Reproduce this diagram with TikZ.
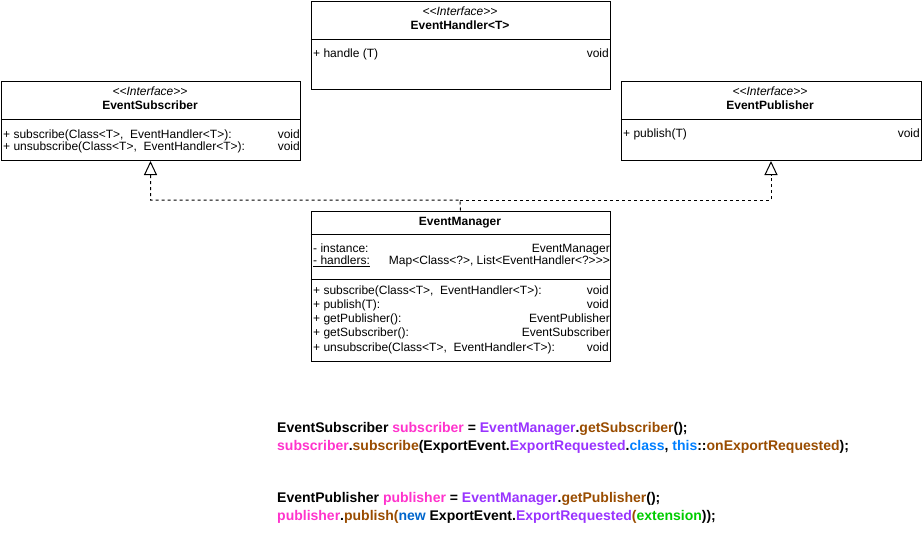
\documentclass[tikz,border=0pt]{standalone}
\usepackage{fontspec}
\setmainfont{Liberation Sans}[Ligatures=TeXOff]
\usetikzlibrary{arrows.meta}

\definecolor{varpink}{HTML}{FF33CC}
\definecolor{typepurple}{HTML}{9933FF}
\definecolor{callbrown}{HTML}{994C00}
\definecolor{kwblue}{HTML}{007FFF}
\definecolor{newblue}{HTML}{0066CC}
\definecolor{argreen}{HTML}{00CC00}

\begin{document}
\begin{tikzpicture}[x=1pt,y=-1pt,
  umlbox/.style={draw, line width=1pt, anchor=north west, inner sep=0pt},
  divider/.style={line width=1pt},
  stereo/.style={font=\fontsize{12}{14}\selectfont\itshape, inner sep=0pt, anchor=base},
  classname/.style={font=\fontsize{12}{14}\selectfont\bfseries, inner sep=0pt, anchor=base},
  member/.style={font=\fontsize{12}{14}\selectfont, inner sep=0pt, anchor=base west},
  mtype/.style={font=\fontsize{12}{14}\selectfont, inner sep=0pt, anchor=base east},
  realizes/.style={line width=1pt, dash pattern=on 3pt off 3pt,
    -{Triangle[open, length=14pt, width=13pt, line width=1pt]}},
  codeline/.style={font=\fontsize{14}{16}\selectfont\bfseries, inner sep=0pt, anchor=base west}
]
\useasboundingbox (0,0) rectangle (922,541);

% ---- EventHandler<T> ----
\node[umlbox, minimum width=299pt, minimum height=88pt] (handler) at (310.5,0.5) {};
\draw[divider] (310.5,39) -- (609.5,39);
\node[stereo] (handlerStereo) at (460,15.5) {<<Interface>>};
\node[classname] (handlerName) at (460,29.5) {EventHandler<T>};
\node[member] (handlerM1) at (313,57) {+ handle (T)};
\node[mtype] (handlerT1) at (609,57) {void};

% ---- EventSubscriber ----
\node[umlbox, minimum width=299pt, minimum height=79.5pt] (sub) at (0.5,80.5) {};
\draw[divider] (0.5,119) -- (299.5,119);
\node[stereo] (subStereo) at (150,95.5) {<<Interface>>};
\node[classname] (subName) at (150,109.5) {EventSubscriber};
\node[member] (subM1) at (3,138) {+ subscribe(Class<T>,\ \ EventHandler<T>):};
\node[mtype] (subT1) at (300,138) {void};
\node[member] (subM2) at (3,150) {+ unsubscribe(Class<T>,\ \ EventHandler<T>):};
\node[mtype] (subT2) at (300,150) {void};

% ---- EventPublisher ----
\node[umlbox, minimum width=300pt, minimum height=79.5pt] (pub) at (620.5,80.5) {};
\draw[divider] (620.5,119) -- (920.5,119);
\node[stereo] (pubStereo) at (770,95.5) {<<Interface>>};
\node[classname] (pubName) at (770,109.5) {EventPublisher};
\node[member] (pubM1) at (623,137) {+ publish(T)};
\node[mtype] (pubT1) at (920,137) {void};

% ---- EventManager ----
\node[umlbox, minimum width=299pt, minimum height=150pt] (em) at (310.5,210.5) {};
\draw[divider] (310.5,234) -- (609.5,234);
\draw[divider] (310.5,279) -- (609.5,279);
\node[classname] (emName) at (460,225) {EventManager};
\node[member] (emA1) at (313,252) {- instance:};
\node[mtype] (emA1t) at (610,252) {EventManager};
\node[member] (emA2) at (313,264.5) {\underline{- handlers:}};
\node[mtype] (emA2t) at (610,264.5) {Map<Class<?>, List<EventHandler<?>>>};
\node[member] (emM1) at (313,294) {+ subscribe(Class<T>,\ \ EventHandler<T>):};
\node[mtype] (emM1t) at (609,294) {void};
\node[member] (emM2) at (313,308.3) {+ publish(T):};
\node[mtype] (emM2t) at (609,308.3) {void};
\node[member] (emM3) at (313,322.6) {+ getPublisher():};
\node[mtype] (emM3t) at (610,322.6) {EventPublisher};
\node[member] (emM4) at (313,336.9) {+ getSubscriber():};
\node[mtype] (emM4t) at (610,336.9) {EventSubscriber};
\node[member] (emM5) at (313,351.2) {+ unsubscribe(Class<T>,\ \ EventHandler<T>):};
\node[mtype] (emM5t) at (609,351.2) {void};

% ---- realization connectors ----
\coordinate (split) at (460,200);
\draw[realizes] (em.north) -- (split) -| (sub.south);
\draw[realizes] (split) -| (pub.south);

% ---- usage snippet ----
\node[codeline] (code1) at (277,432) {EventSubscriber \textcolor{varpink}{subscriber} = \textcolor{typepurple}{EventManager}.\textcolor{callbrown}{getSubscriber}();};
\node[codeline] (code2) at (277,450) {\textcolor{varpink}{subscriber}.\textcolor{callbrown}{subscribe}(ExportEvent.\textcolor{typepurple}{ExportRequested}.\textcolor{kwblue}{class}, \textcolor{kwblue}{this}::\textcolor{callbrown}{onExportRequested});};
\node[codeline] (code3) at (277,502) {EventPublisher \textcolor{varpink}{publisher} = \textcolor{typepurple}{EventManager}.\textcolor{callbrown}{getPublisher}();};
\node[codeline] (code4) at (277,520) {\textcolor{varpink}{publisher}.\textcolor{callbrown}{publish(}\textcolor{newblue}{new} ExportEvent.\textcolor{typepurple}{ExportRequested}\textcolor{callbrown}{(}\textcolor{argreen}{extension}));};
\end{tikzpicture}
\end{document}
